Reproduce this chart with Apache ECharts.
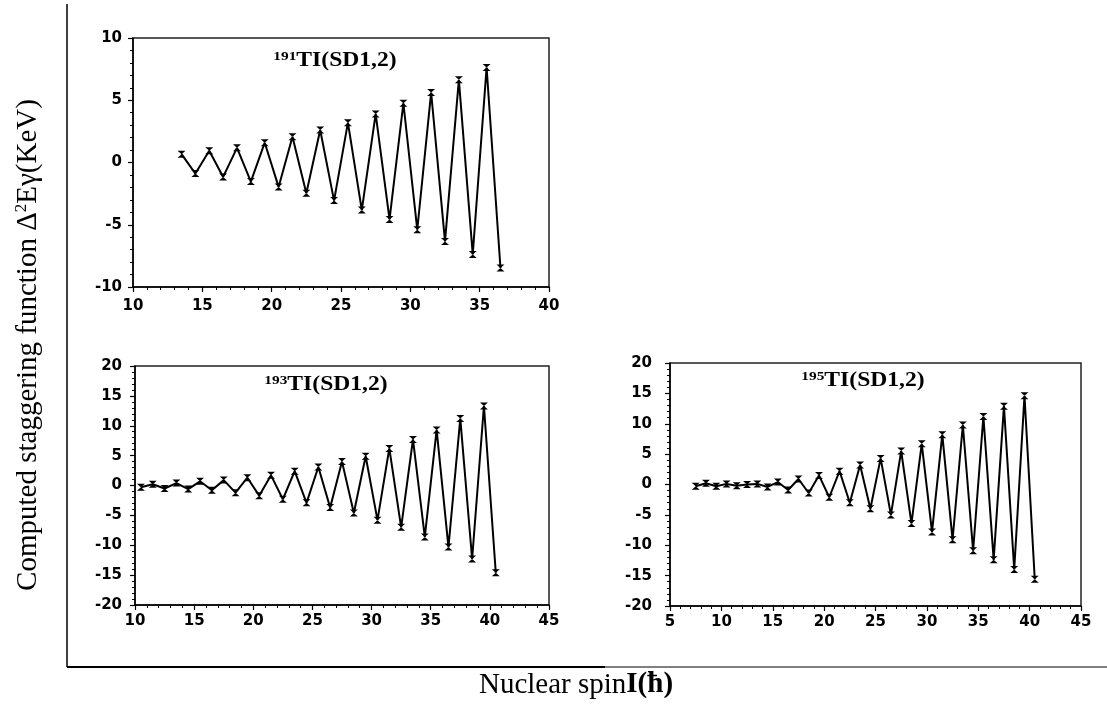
<!DOCTYPE html>
<html>
<head>
<meta charset="utf-8">
<script src="https://cdn.jsdelivr.net/npm/echarts@6/dist/echarts.min.js"></script>
<style>
html,body{margin:0;padding:0;background:#fff;}
#c{width:1107px;height:705px;}
</style>
</head>
<body>
<div id="c"></div>
<script>
// ---- data ----
const spinA = [13.5,14.5,15.5,16.5,17.5,18.5,19.5,20.5,21.5,22.5,23.5,24.5,25.5,26.5,27.5,28.5,29.5,30.5,31.5,32.5,33.5,34.5,35.5,36.5];
const stagA = [0.67,-0.89,0.94,-1.16,1.18,-1.53,1.59,-1.96,2.07,-2.47,2.61,-3.06,3.2,-3.82,3.9,-4.57,4.76,-5.4,5.62,-6.34,6.64,-7.39,7.63,-8.47];

const spinB = [10.5,11.5,12.5,13.5,14.5,15.5,16.5,17.5,18.5,19.5,20.5,21.5,22.5,23.5,24.5,25.5,26.5,27.5,28.5,29.5,30.5,31.5,32.5,33.5,34.5,35.5,36.5,37.5,38.5,39.5,40.5];
const stagB = [-0.3,0.2,-0.5,0.4,-0.6,0.7,-0.8,0.9,-1.2,1.3,-1.7,1.7,-2.3,2.4,-2.9,3.1,-3.7,4.0,-4.6,4.9,-5.8,6.2,-7.0,7.7,-8.6,9.3,-10.3,11.2,-12.3,13.3,-14.6];

const spinC = [7.5,8.5,9.5,10.5,11.5,12.5,13.5,14.5,15.5,16.5,17.5,18.5,19.5,20.5,21.5,22.5,23.5,24.5,25.5,26.5,27.5,28.5,29.5,30.5,31.5,32.5,33.5,34.5,35.5,36.5,37.5,38.5,39.5,40.5];
const stagC = [-0.3,0.2,-0.3,0.1,-0.2,0.0,0.1,-0.4,0.4,-0.9,0.9,-1.4,1.5,-2.1,2.2,-3.0,3.2,-4.0,4.3,-5.0,5.5,-6.4,6.7,-7.8,8.2,-9.1,9.8,-10.9,11.2,-12.4,12.9,-14.0,14.6,-15.6];

const panelTitles = [
  {mass:'191', name:'TI(SD1,2)'},
  {mass:'193', name:'TI(SD1,2)'},
  {mass:'195', name:'TI(SD1,2)'}
];
const xRanges = [[10,40],[10,45],[5,45]];
const yRanges = [[-10,10],[-20,20],[-20,20]];
const yLabelText = 'Computed staggering function ';
const xLabelText = 'Nuclear spin';

// ---- layout ----
const grids = [
  {left:133, top:38, width:416, height:249},
  {left:135, top:366, width:414, height:239},
  {left:670, top:363, width:411, height:243}
];
const titlePos = [[335,50],[326,374],[863,370]];
const yMargins = [11,13,18];
const xMargins = [12,9,9];

const tickFont = {color:'#000', fontSize:15, fontWeight:'bold', fontFamily:'DejaVu Sans'};
const bowtie = 'path://M0,0 L10,0 L0,10 L10,10 Z';

function xAxisFor(i){
  return {
    type:'value', gridIndex:i, min:xRanges[i][0], max:xRanges[i][1], interval:5,
    axisLine:{show:true, onZero:false, lineStyle:{color:'#000', width:1.5}},
    axisTick:{show:true, inside:false, length:5, lineStyle:{color:'#000', width:1.2}},
    minorTick:{show:true, splitNumber:5, length:3, lineStyle:{color:'#000', width:1}},
    splitLine:{show:false}, minorSplitLine:{show:false},
    axisLabel:Object.assign({margin:xMargins[i]}, tickFont)
  };
}
function yAxisFor(i){
  return {
    type:'value', gridIndex:i, min:yRanges[i][0], max:yRanges[i][1], interval:5,
    axisLine:{show:true, onZero:false, lineStyle:{color:'#000', width:1.5}},
    axisTick:{show:true, inside:false, length:5, lineStyle:{color:'#000', width:1.2}},
    minorTick:{show:true, splitNumber:5, length:3, lineStyle:{color:'#000', width:1}},
    splitLine:{show:false}, minorSplitLine:{show:false},
    axisLabel:Object.assign({margin:yMargins[i]}, tickFont)
  };
}
function seriesFor(i, xs, ys){
  return {
    type:'line', xAxisIndex:i, yAxisIndex:i,
    data: xs.map((x,k)=>[x, ys[k]]),
    symbol:bowtie, symbolSize:[8,7], showSymbol:true,
    itemStyle:{color:'#000'},
    lineStyle:{color:'#000', width:2},
    animation:false, silent:true
  };
}

const richTitle = {
  sup:{fontFamily:'Liberation Serif', fontWeight:'bold', fontSize:13, color:'#000', verticalAlign:'top', padding:[0,0,8,0]},
  main:{fontFamily:'Liberation Serif', fontWeight:'bold', fontSize:20, color:'#000'}
};

const chart = echarts.init(document.getElementById('c'), null, {renderer:'canvas'});
chart.setOption({
  backgroundColor:'#fff',
  animation:false,
  grid: grids.map(g=>Object.assign({show:true, borderColor:'#222', borderWidth:1.5, backgroundColor:'transparent'}, g)),
  xAxis:[0,1,2].map(xAxisFor),
  yAxis:[0,1,2].map(yAxisFor),
  series:[seriesFor(0,spinA,stagA), seriesFor(1,spinB,stagB), seriesFor(2,spinC,stagC)],
  graphic:[
    // frame lines
    {type:'line', shape:{x1:67, y1:4, x2:67, y2:667}, style:{stroke:'#000', lineWidth:1.5}},
    {type:'line', shape:{x1:67, y1:667, x2:605, y2:667}, style:{stroke:'#000', lineWidth:2}},
    {type:'line', shape:{x1:605, y1:667, x2:1107, y2:667}, style:{stroke:'#000', lineWidth:1}},
    // titles
    ...panelTitles.map((t,i)=>({
      type:'text', x:titlePos[i][0], y:titlePos[i][1], scaleX:1.18,
      style:{text:'{sup|'+t.mass+'}{main|'+t.name+'}', rich:richTitle, align:'center', verticalAlign:'top'}
    })),
    // y label
    {type:'text', x:28, y:345, rotation:Math.PI/2,
      style:{
        text:'{n|'+yLabelText+'Δ}{s|2}{n|Eγ(KeV)}',
        align:'center', verticalAlign:'middle',
        rich:{
          n:{fontFamily:'Liberation Serif', fontSize:29, color:'#000'},
          s:{fontFamily:'Liberation Serif', fontSize:17, color:'#000', verticalAlign:'top', padding:[0,0,12,0]}
        }
      }},
    // x label
    {type:'text', x:576, y:685,
      style:{
        text:'{n|'+xLabelText+'}{b|I(ħ)}',
        align:'center', verticalAlign:'middle',
        rich:{
          n:{fontFamily:'Liberation Serif', fontSize:29, color:'#000'},
          b:{fontFamily:'Liberation Serif', fontSize:29, fontWeight:'bold', color:'#000'}
        }
      }}
  ]
});
</script>
</body>
</html>
